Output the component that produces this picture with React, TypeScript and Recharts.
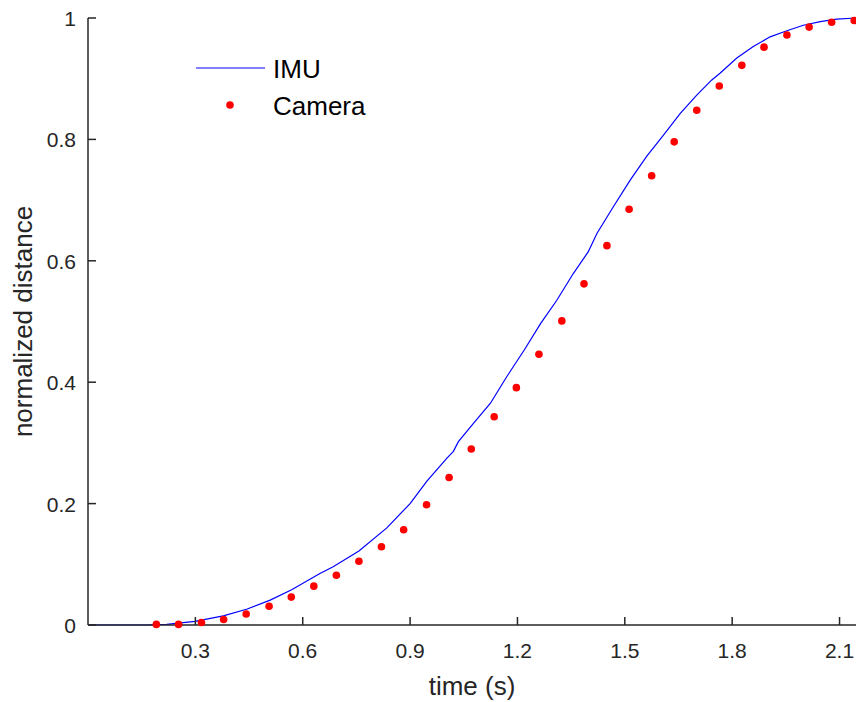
import { ComposedChart, Line, Scatter, XAxis, YAxis, Legend, Label } from 'recharts';

// IMU trace
const imuTime = [
  0, 0.16, 0.22, 0.299, 0.378, 0.443, 0.509, 0.569, 0.648, 0.685, 0.757, 0.835, 0.9, 0.947,
  1.003, 1.021, 1.035, 1.077, 1.124, 1.17, 1.219, 1.265, 1.31, 1.356, 1.398, 1.422, 1.468,
  1.515, 1.561, 1.608, 1.655, 1.701, 1.743, 1.766, 1.813, 1.859, 1.906, 1.953, 1.999, 2.046,
  2.092, 2.146
];
const imuDist = [
  0, 0, 0.001, 0.006, 0.015, 0.026, 0.041, 0.058, 0.085, 0.096, 0.122, 0.16, 0.2, 0.237,
  0.275, 0.286, 0.302, 0.332, 0.365, 0.409, 0.453, 0.497, 0.535, 0.579, 0.615, 0.645, 0.689,
  0.733, 0.772, 0.807, 0.843, 0.873, 0.898, 0.909, 0.934, 0.953, 0.969, 0.979, 0.988, 0.994,
  0.998, 1.0
];

// camera samples
const cameraTime = [
  0.191, 0.253, 0.317, 0.379, 0.442, 0.506, 0.568, 0.631, 0.694, 0.757, 0.82, 0.882, 0.946,
  1.009, 1.071, 1.135, 1.197, 1.26, 1.324, 1.386, 1.45, 1.512, 1.575, 1.638, 1.701, 1.764,
  1.827, 1.889, 1.953, 2.015, 2.078, 2.141
];
const cameraDist = [
  0.001, 0.001, 0.004, 0.009, 0.018, 0.031, 0.046, 0.064, 0.082, 0.105, 0.129, 0.157, 0.198,
  0.243, 0.29, 0.343, 0.391, 0.446, 0.501, 0.562, 0.625, 0.685, 0.74, 0.796, 0.848, 0.888,
  0.922, 0.952, 0.972, 0.985, 0.993, 0.996
];

const xTicks = [0.3, 0.6, 0.9, 1.2, 1.5, 1.8, 2.1];
const yTicks = [0, 0.2, 0.4, 0.6, 0.8, 1];

const imuData = imuTime.map((t, i) => ({ t, d: imuDist[i] }));
const cameraData = cameraTime.map((t, i) => ({ t, d: cameraDist[i] }));

const FONT = '"Liberation Sans", Arial, sans-serif';
const INK = '#262626';

const XTick = (props: any) => {
  const { x, y, payload } = props;
  return (
    <g>
      <line x1={x} y1={y} x2={x} y2={y - 8} stroke={INK} strokeWidth={1.5} />
      <text x={x} y={y + 33} textAnchor="middle" fill={INK} fontSize={21} fontFamily={FONT}>
        {String(payload.value)}
      </text>
    </g>
  );
};

const YTick = (props: any) => {
  const { x, y, payload } = props;
  return (
    <g>
      <line x1={x} y1={y} x2={x + 8} y2={y} stroke={INK} strokeWidth={1.5} />
      <text x={x - 12} y={y + 8} textAnchor="end" fill={INK} fontSize={21} fontFamily={FONT}>
        {String(payload.value)}
      </text>
    </g>
  );
};

const XTitle = (props: any) => {
  const { viewBox } = props;
  return (
    <text x={viewBox.x + viewBox.width / 2} y={695} textAnchor="middle" fill={INK} fontSize={26} fontFamily={FONT}>
      time (s)
    </text>
  );
};

const YTitle = (props: any) => {
  const { viewBox } = props;
  const cy = viewBox.y + viewBox.height / 2;
  return (
    <text transform={`translate(32, ${cy}) rotate(-90)`} textAnchor="middle" fill={INK} fontSize={26} fontFamily={FONT}>
      normalized distance
    </text>
  );
};

const renderLegend = () => (
  <svg width={200} height={80} style={{ display: 'block' }}>
    <line x1={6} y1={18} x2={75} y2={18} stroke="#0000ff" strokeWidth={1.2} />
    <text x={83} y={28} fill="#000" fontSize={26} fontFamily={FONT}>IMU</text>
    <circle cx={40} cy={55} r={3.8} fill="#ff0000" />
    <text x={83} y={65} fill="#000" fontSize={26} fontFamily={FONT}>Camera</text>
  </svg>
);

export default function App() {
  return (
    <div style={{ position: 'absolute', left: 0, top: 0, background: '#fff' }}>
      <ComposedChart width={859} height={702} margin={{ top: 18, right: 3, bottom: 0, left: 0 }}>
        <XAxis
          dataKey="t"
          type="number"
          domain={[0, 2.146]}
          ticks={xTicks}
          allowDataOverflow
          height={77}
          stroke={INK}
          strokeWidth={1.5}
          tickLine={false}
          tickSize={0}
          tickMargin={0}
          tick={XTick}
        >
          <Label content={XTitle} />
        </XAxis>
        <YAxis
          dataKey="d"
          type="number"
          domain={[0, 1]}
          ticks={yTicks}
          width={88}
          stroke={INK}
          strokeWidth={1.5}
          tickLine={false}
          tickSize={0}
          tickMargin={0}
          tick={YTick}
        >
          <Label content={YTitle} />
        </YAxis>
        <Legend
          layout="vertical"
          align="center"
          verticalAlign="middle"
          content={renderLegend}
          wrapperStyle={{ left: 190, top: 50, width: 200, height: 80 }}
        />
        <Line
          data={imuData}
          dataKey="d"
          type="linear"
          stroke="#0000ff"
          strokeWidth={1.2}
          dot={false}
          activeDot={false}
          isAnimationActive={false}
        />
        <Scatter
          data={cameraData}
          dataKey="d"
          fill="#ff0000"
          isAnimationActive={false}
          shape={(p: any) => <circle cx={p.cx} cy={p.cy} r={3.8} fill="#ff0000" />}
        />
      </ComposedChart>
    </div>
  );
}
